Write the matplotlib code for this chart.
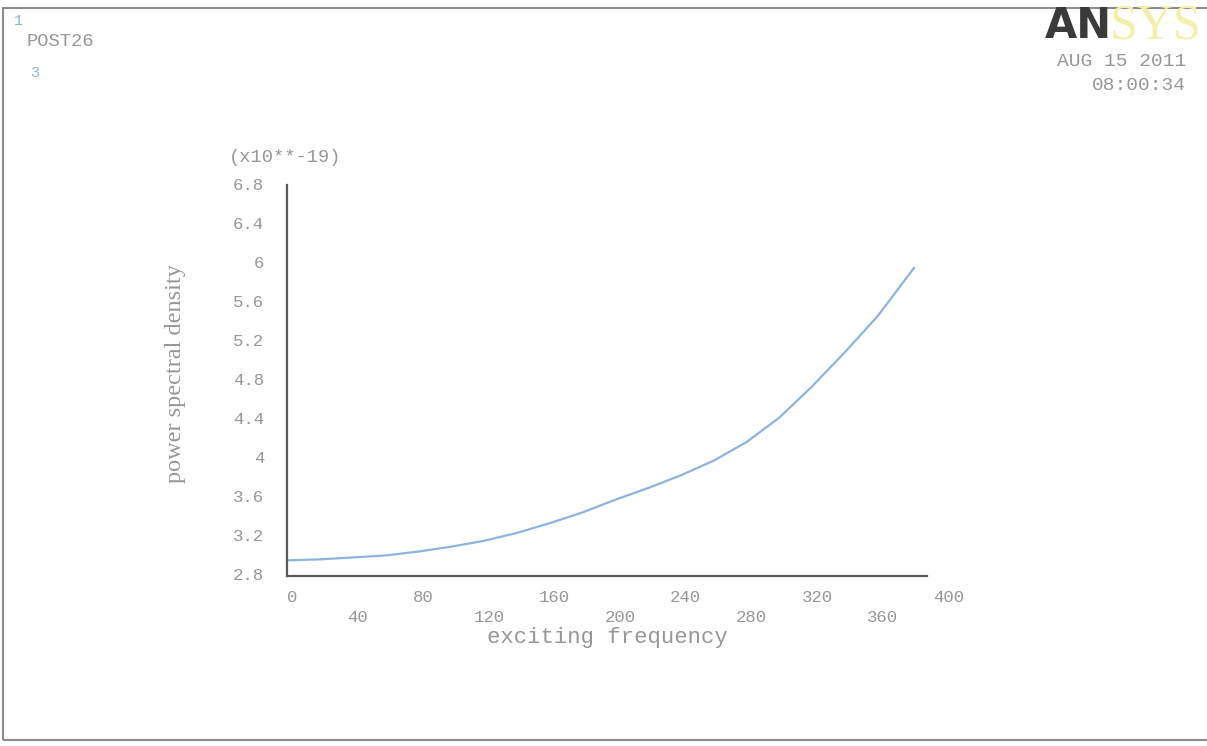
import matplotlib
matplotlib.use("Agg")
import matplotlib.pyplot as plt
from matplotlib.transforms import blended_transform_factory

# Data
freq = [0, 20, 40, 60, 80, 100, 120, 140, 160, 180, 200, 220, 240, 260, 280,
        300, 320, 340, 360, 382]
psd = [2.96, 2.97, 2.99, 3.01, 3.05, 3.10, 3.16, 3.24, 3.34, 3.45, 3.58, 3.70,
       3.83, 3.98, 4.17, 4.42, 4.74, 5.09, 5.46, 5.95]
x_ticks = [0, 40, 80, 120, 160, 200, 240, 280, 320, 360, 400]
x_tick_labels = ["0", "40", "80", "120", "160", "200", "240", "280", "320", "360", "400"]
y_ticks = [2.8, 3.2, 3.6, 4.0, 4.4, 4.8, 5.2, 5.6, 6.0, 6.4, 6.8]
y_tick_labels = ["2.8", "3.2", "3.6", "4", "4.4", "4.8", "5.2", "5.6", "6", "6.4", "6.8"]

W, H = 1207, 746
fig = plt.figure(figsize=(W / 100, H / 100), dpi=100)
fig.patch.set_facecolor("white")

mono = "Liberation Mono"
gray = "#979797"
axcol = "#5a5a5a"

# outer frame
frame = plt.Rectangle((3 / W, 6 / H), 1.2, 1 - 14 / H, transform=fig.transFigure,
                      fill=False, edgecolor="#8c8c8c", lw=1.5)
fig.add_artist(frame)

left, right, top, bottom = 287, 927, 185, 576
ax = fig.add_axes([left / W, 1 - bottom / H, (right - left) / W, (bottom - top) / H])
ax.set_xlim(0, 390)
ax.set_ylim(2.8, 6.8)
ax.plot(freq, psd, color="#8fb3df", lw=1.6, solid_joinstyle="round")

for s in ["top", "right"]:
    ax.spines[s].set_visible(False)
for s in ["left", "bottom"]:
    ax.spines[s].set_color(axcol)
    ax.spines[s].set_linewidth(1.6)
ax.set_xticks([])
ax.set_yticks([])

# y tick labels
for v, lab in zip(y_ticks, y_tick_labels):
    ax.text(-14, v, lab, transform=ax.transData, ha="right", va="center",
            fontsize=12.5, family=mono, color=gray, clip_on=False)

# x tick labels (staggered)
trans = blended_transform_factory(ax.transData, fig.transFigure)
for i, (v, lab) in enumerate(zip(x_ticks, x_tick_labels)):
    ypix = 597 if i % 2 == 0 else 618
    ax.text(v + 3, 1 - ypix / H, lab, transform=trans, ha="center", va="center",
            fontsize=12.5, family=mono, color=gray, clip_on=False)

fig.text(607 / W, 1 - 638 / H, "exciting frequency", ha="center", va="center",
         fontsize=16, family=mono, color=gray)
fig.text(285 / W, 1 - 158 / H, "(x10**-19)", ha="center", va="center",
         fontsize=13.5, family=mono, color=gray)
fig.text(175 / W, 1 - 374 / H, "power spectral density", ha="center", va="center",
         rotation=90, fontsize=17.5, family="Liberation Serif", color=gray)

# header texts
fig.text(14 / W, 1 - 21 / H, "1", ha="left", va="center", fontsize=11,
         family=mono, color="#8fb3df")
fig.text(27 / W, 1 - 42 / H, "POST26", ha="left", va="center", fontsize=13.5,
         family=mono, color=gray)
fig.text(30 / W, 1 - 73 / H, "3", ha="left", va="center", fontsize=11,
         family=mono, color="#8fb3df")

fig.text(1045 / W, 1 - 26 / H, "AN", ha="left", va="center", fontsize=30,
         family="DejaVu Sans", weight="bold", color="#3a3a3a")
fig.text(1110 / W, 1 - 26 / H, "SYS", ha="left", va="center", fontsize=36,
         family="Liberation Serif", color="#f2f0a8")
fig.text(1186 / W, 1 - 62 / H, "AUG 15 2011", ha="right", va="center",
         fontsize=14, family=mono, color=gray)
fig.text(1186 / W, 1 - 85 / H, "08:00:34", ha="right", va="center",
         fontsize=14, family=mono, color=gray)

fig.savefig("out.png", dpi=100, facecolor="white")
